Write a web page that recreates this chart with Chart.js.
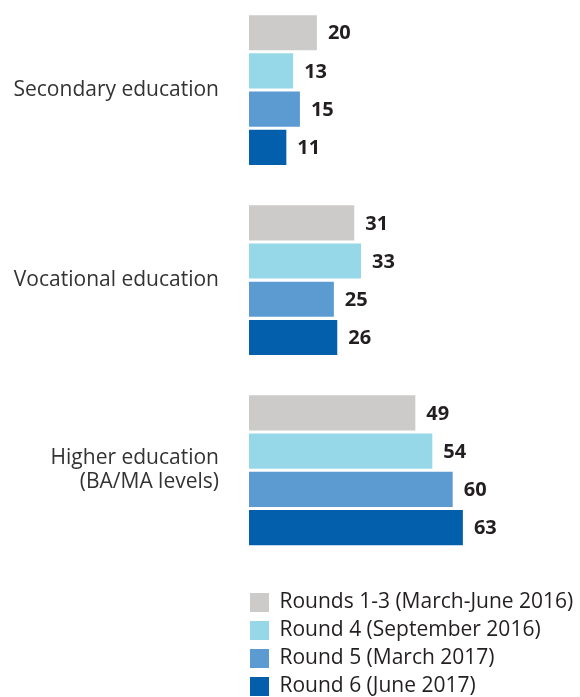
<!DOCTYPE html>
<html>
<head>
<meta charset="utf-8">
<script src="https://cdn.jsdelivr.net/npm/chart.js@4"></script>
<style>
  html, body { margin: 0; padding: 0; background: #fff; overflow: hidden; }
  #wrap { position: absolute; left: 0; top: -5px; width: 580px; height: 712px; }
</style>
</head>
<body>
<div id="wrap"><canvas id="eduChart"></canvas></div>
<script>
var categories = [['Secondary education'], ['Vocational education'], ['Higher education', '(BA/MA levels)']];
var rounds = ['Rounds 1-3 (March-June 2016)', 'Round 4 (September 2016)', 'Round 5 (March 2017)', 'Round 6 (June 2017)'];
var round13 = [20, 31, 49];
var round4 = [13, 33, 54];
var round5 = [15, 25, 60];
var round6 = [11, 26, 63];
var colors = ['#cccbca', '#97d8e8', '#5b9bd2', '#035fac'];

var valueLabels = {
  id: 'valueLabels',
  afterDatasetsDraw: function(chart) {
    var ctx = chart.ctx;
    ctx.save();
    ctx.font = 'bold 20px "Open Sans"';
    ctx.fillStyle = '#231f20';
    ctx.textBaseline = 'middle';
    ctx.textAlign = 'left';
    chart.data.datasets.forEach(function(ds, i) {
      chart.getDatasetMeta(i).data.forEach(function(bar, j) {
        ctx.fillText(ds.data[j], bar.x + 11, bar.y + 1);
      });
    });
    ctx.restore();
  }
};

// nudge legend so boxes line up with bar start
var legendShift = {
  id: 'legendShift',
  afterLayout: function(chart) {
    chart.legend.left -= 6;
    chart.legend.right -= 6;
  }
};

var ctx = document.getElementById('eduChart').getContext('2d');
var eduChart = new Chart(ctx, {
  type: 'bar',
  data: {
    labels: categories,
    datasets: [
      { label: rounds[0], data: round13, backgroundColor: colors[0] },
      { label: rounds[1], data: round4, backgroundColor: colors[1] },
      { label: rounds[2], data: round5, backgroundColor: colors[2] },
      { label: rounds[3], data: round6, backgroundColor: colors[3] }
    ]
  },
  options: {
    indexAxis: 'y',
    responsive: true,
    maintainAspectRatio: false,
    animation: false,
    categoryPercentage: 0.804,
    barPercentage: 0.92,
    layout: { padding: 0 },
    scales: {
      x: { display: false, min: 0, max: 97.5 },
      y: {
        grid: { display: false },
        border: { display: false },
        afterFit: function(scale) {
          scale.width = 249;
          scale.paddingTop = 0;
          scale.paddingBottom = 0;
        },
        ticks: {
          padding: 22,
          color: '#333333',
          font: { family: 'Open Sans', size: 21, lineHeight: 1.15 }
        }
      }
    },
    plugins: {
      tooltip: { enabled: false },
      legend: {
        position: 'bottom',
        align: 'start',
        fullSize: false,
        title: { display: true, text: ' ', font: { size: 1 }, padding: { top: 18.5, bottom: 0 } },
        labels: {
          boxWidth: 19,
          boxHeight: 19,
          padding: 7,
          color: '#231f20',
          font: { family: 'Open Sans', size: 21 }
        }
      }
    }
  },
  plugins: [valueLabels, legendShift]
});
</script>
</body>
</html>
